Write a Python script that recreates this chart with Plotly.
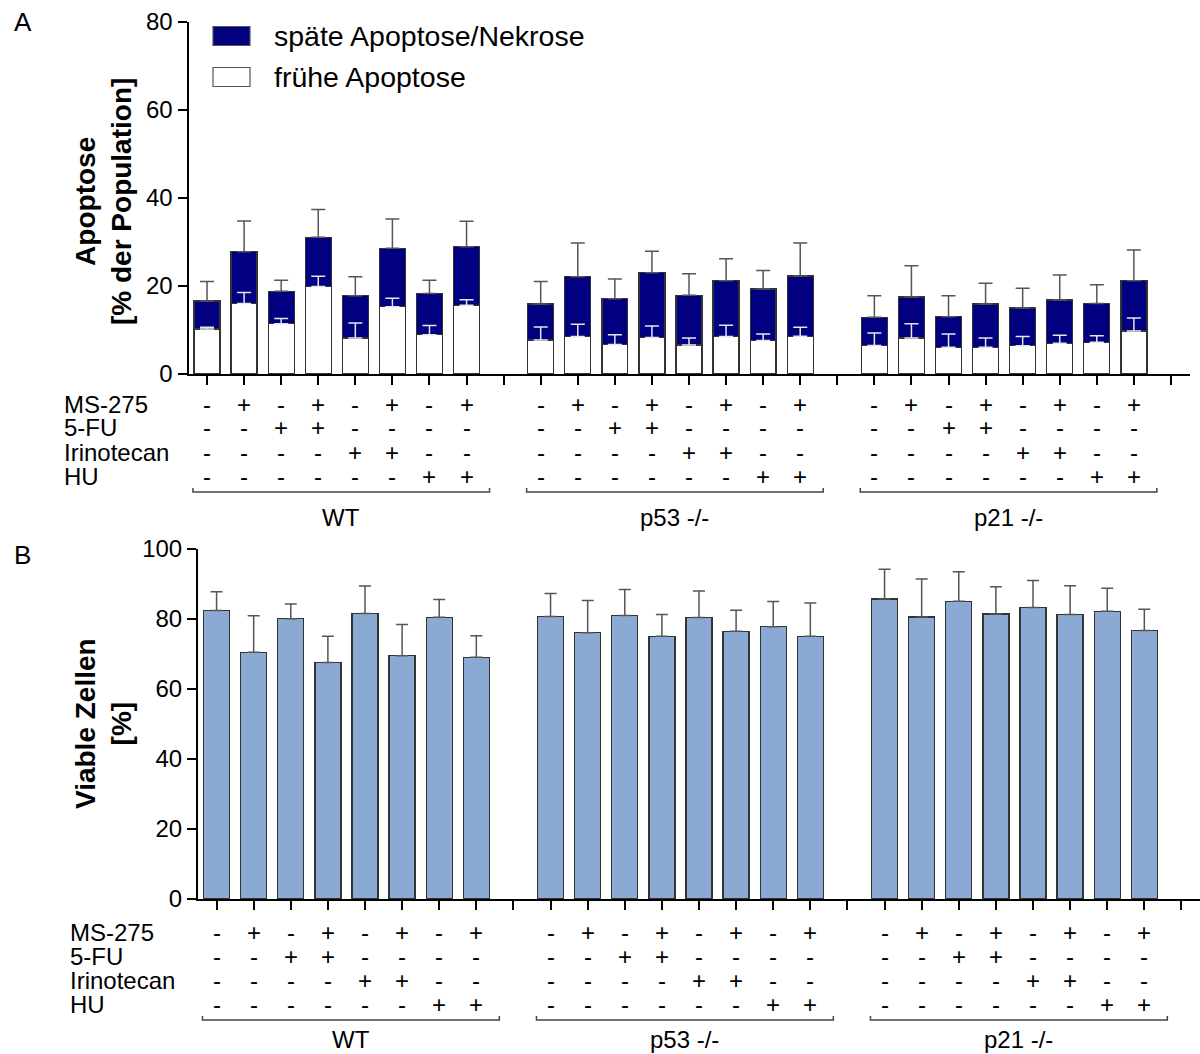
import plotly.graph_objects as go

# ---------------- data ----------------
groups = ["WT", "p53 -/-", "p21 -/-"]
row_labels = ["MS-275", "5-FU", "Irinotecan", "HU"]
ms275 = ["-", "+", "-", "+", "-", "+", "-", "+"]
fu5 = ["-", "-", "+", "+", "-", "-", "-", "-"]
irinotecan = ["-", "-", "-", "-", "+", "+", "-", "-"]
hu = ["-", "-", "-", "-", "-", "-", "+", "+"]

# Panel A: early apoptosis (white) and total (early + late) apoptosis, mean and mean+SD
early_mean = [10.2, 16.0, 11.4, 19.9, 8.2, 15.3, 8.9, 15.6,
              7.7, 8.5, 6.7, 8.3, 6.6, 8.5, 7.6, 8.6,
              6.5, 8.2, 6.1, 6.1, 6.4, 7.0, 7.2, 9.8]
early_upper = [10.6, 18.5, 12.6, 22.2, 11.6, 17.2, 11.0, 16.9,
               10.7, 11.3, 8.9, 10.9, 8.2, 11.1, 9.1, 10.6,
               9.3, 11.4, 9.1, 8.2, 8.5, 8.8, 8.7, 12.7]
total_mean = [16.6, 27.8, 18.8, 31.1, 17.8, 28.6, 18.3, 28.9,
              15.9, 22.1, 17.1, 23.0, 17.9, 21.2, 19.3, 22.3,
              12.9, 17.5, 13.0, 15.9, 15.0, 16.8, 16.0, 21.2]
total_upper = [21.0, 34.8, 21.3, 37.4, 22.1, 35.2, 21.3, 34.7,
               21.0, 29.8, 21.6, 27.9, 22.8, 26.2, 23.5, 29.8,
               17.8, 24.6, 17.8, 20.6, 19.5, 22.5, 20.3, 28.2]

# Panel B: viable cells, mean and mean+SD
viable_mean = [82.4, 70.5, 80.1, 67.6, 81.6, 69.5, 80.5, 69.1,
               80.7, 76.1, 81.0, 75.1, 80.4, 76.5, 77.8, 75.1,
               85.7, 80.6, 85.1, 81.4, 83.3, 81.3, 82.2, 76.7]
viable_upper = [87.8, 80.9, 84.3, 75.1, 89.4, 78.4, 85.6, 75.2,
                87.3, 85.3, 88.4, 81.3, 88.0, 82.5, 85.0, 84.6,
                94.2, 91.4, 93.5, 89.2, 91.0, 89.5, 88.8, 82.8]

# ---------------- layout helpers ----------------
W, H = 1200, 1054
FONT = "Liberation Sans, Arial, sans-serif"
NAVY = "#000080"
BLUE = "#8BAAD3"
OUTLINE = "#333333"
ERR = "#555555"

def py(p):
    return 1 - p / H

n_per = len(ms275)
pos = [g * (n_per + 1) + i for g in range(len(groups)) for i in range(n_per)]
late_mean = [t - e for t, e in zip(total_mean, early_mean)]
early_err = [u - m for u, m in zip(early_upper, early_mean)]
total_err = [u - m for u, m in zip(total_upper, total_mean)]
viable_err = [u - m for u, m in zip(viable_upper, viable_mean)]
nslots = len(groups) * (n_per + 1) - 1

fig = go.Figure()

# Panel A bars
fig.add_trace(go.Bar(x=pos, y=early_mean, width=0.7, marker=dict(color="white", line=dict(color=OUTLINE, width=1.3)),
                     name="frühe Apoptose", showlegend=False, xaxis="x", yaxis="y"))
fig.add_trace(go.Bar(x=pos, y=late_mean, width=0.7, marker=dict(color=NAVY, line=dict(color=OUTLINE, width=1.3)),
                     name="späte Apoptose/Nekrose", showlegend=False, xaxis="x", yaxis="y"))
fig.add_trace(go.Scatter(x=pos, y=early_mean, mode="markers", marker=dict(size=1, color="rgba(0,0,0,0)"),
                         error_y=dict(type="data", array=early_err, arrayminus=[0] * len(pos), symmetric=False,
                                      color="#e6e6e6", thickness=1.5, width=7),
                         showlegend=False, hoverinfo="skip", xaxis="x", yaxis="y"))
fig.add_trace(go.Scatter(x=pos, y=total_mean, mode="markers", marker=dict(size=1, color="rgba(0,0,0,0)"),
                         error_y=dict(type="data", array=total_err, arrayminus=[0] * len(pos), symmetric=False,
                                      color=ERR, thickness=1.5, width=7),
                         showlegend=False, hoverinfo="skip", xaxis="x", yaxis="y"))

# Panel B bars
fig.add_trace(go.Bar(x=pos, y=viable_mean, width=0.7, marker=dict(color=BLUE, line=dict(color=OUTLINE, width=1.3)),
                     showlegend=False, xaxis="x2", yaxis="y2"))
fig.add_trace(go.Scatter(x=pos, y=viable_mean, mode="markers", marker=dict(size=1, color="rgba(0,0,0,0)"),
                         error_y=dict(type="data", array=viable_err, arrayminus=[0] * len(pos), symmetric=False,
                                      color=ERR, thickness=1.5, width=6),
                         showlegend=False, hoverinfo="skip", xaxis="x2", yaxis="y2"))

axis_line = dict(showline=True, linecolor="black", linewidth=2, ticks="outside", ticklen=9, tickwidth=2,
                 tickcolor="black", showgrid=False, zeroline=False, automargin=False)
tick_font = dict(family=FONT, size=24, color="black")

fig.update_layout(
    width=W, height=H, margin=dict(l=0, r=0, t=0, b=0, pad=0, autoexpand=False),
    paper_bgcolor="white", plot_bgcolor="white",
    barmode="stack", showlegend=False,
    xaxis=dict(domain=[188.5 / W, 1189.5 / W], range=[-0.5, nslots + 0.5], anchor="y",
               tickvals=list(range(nslots + 1)), showticklabels=False, **axis_line),
    yaxis=dict(domain=[py(374), py(22)], range=[0, 80], anchor="x", tickvals=[0, 20, 40, 60, 80],
               tickfont=tick_font, **axis_line),
    xaxis2=dict(domain=[198 / W, 1200 / W], range=[-0.5, nslots + 0.5], anchor="y2",
                tickvals=list(range(nslots + 1)), showticklabels=False, **axis_line),
    yaxis2=dict(domain=[py(899), py(549)], range=[0, 100], anchor="x2", tickvals=[0, 20, 40, 60, 80, 100],
                tickfont=tick_font, **axis_line),
)

ann = []
shapes = []
rows = [ms275, fu5, irinotecan, hu]

def table(xref, row_y, label_x, bracket_y, group_y):
    for r, (lab, vals) in enumerate(zip(row_labels, rows)):
        ann.append(dict(x=label_x / W, y=py(row_y[r]), xref="paper", yref="paper", text=lab, showarrow=False,
                        xanchor="left", yanchor="middle", font=dict(family=FONT, size=24, color="black")))
        for g in range(len(groups)):
            for i in range(n_per):
                ann.append(dict(x=g * (n_per + 1) + i, y=py(row_y[r]), xref=xref, yref="paper", text=vals[i],
                                showarrow=False, xanchor="center", yanchor="middle",
                                font=dict(family=FONT, size=24, color="black")))
    for g, gname in enumerate(groups):
        x0 = g * (n_per + 1) - 0.38
        x1 = g * (n_per + 1) + n_per - 1 + 0.62
        yb = py(bracket_y)
        yt = py(bracket_y - 4)
        shapes.append(dict(type="path", xref=xref, yref="paper",
                           path=f"M {x0},{yt} L {x0},{yb} L {x1},{yb} L {x1},{yt}",
                           line=dict(color="#444444", width=1.5)))
        ann.append(dict(x=(x0 + x1) / 2, y=py(group_y), xref=xref, yref="paper", text=gname, showarrow=False,
                        xanchor="center", yanchor="middle", font=dict(family=FONT, size=24, color="black")))

table("x", [404, 428, 452, 476], 62, 492, 517)
table("x2", [932, 956, 980, 1004], 68, 1020, 1039)

# axis titles
ann.append(dict(x=103 / W, y=py(202), xref="paper", yref="paper", text="<b>Apoptose<br>[% der Population]</b>",
                textangle=-90, showarrow=False, xanchor="center", yanchor="middle",
                font=dict(family=FONT, size=28, color="black")))
ann.append(dict(x=103 / W, y=py(724), xref="paper", yref="paper", text="<b>Viable Zellen<br>[%]</b>",
                textangle=-90, showarrow=False, xanchor="center", yanchor="middle",
                font=dict(family=FONT, size=28, color="black")))
# panel letters
ann.append(dict(x=12 / W, y=py(22), xref="paper", yref="paper", text="A", showarrow=False,
                xanchor="left", yanchor="middle", font=dict(family=FONT, size=26, color="black")))
ann.append(dict(x=12 / W, y=py(555), xref="paper", yref="paper", text="B", showarrow=False,
                xanchor="left", yanchor="middle", font=dict(family=FONT, size=26, color="black")))

# legend
legend_items = [("späte Apoptose/Nekrose", NAVY, 36), ("frühe Apoptose", "white", 77)]
for text, col, yc in legend_items:
    shapes.append(dict(type="rect", xref="paper", yref="paper", x0=213 / W, x1=250 / W,
                       y0=py(yc + 9.5), y1=py(yc - 9.5), fillcolor=col, line=dict(color="#555555", width=1.2)))
    ann.append(dict(x=272 / W, y=py(yc), xref="paper", yref="paper", text=text, showarrow=False,
                    xanchor="left", yanchor="middle", font=dict(family=FONT, size=28.5, color="black")))

fig.update_layout(annotations=ann, shapes=shapes)
fig.write_html("out.html")
